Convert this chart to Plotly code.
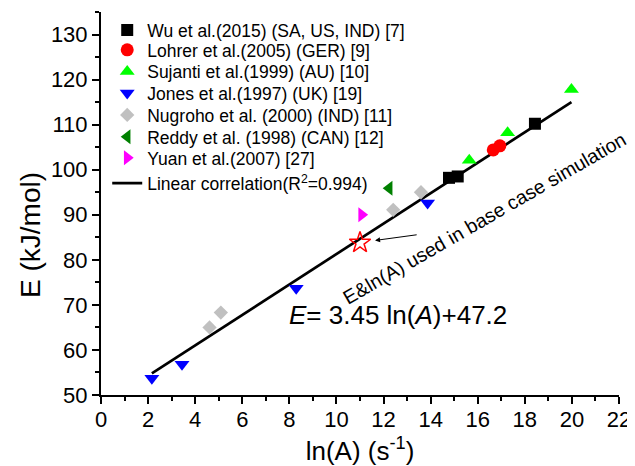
import plotly.graph_objects as go

# ---- data ----
wu_x = [14.78, 15.15, 18.43]
wu_y = [98.2, 98.5, 110.2]
lohrer_x = [16.66, 16.94]
lohrer_y = [104.4, 105.3]
sujanti_x = [15.64, 17.27, 19.98]
sujanti_y = [102.1, 108.2, 117.8]
jones_x = [2.16, 3.44, 8.29, 13.87]
jones_y = [53.7, 56.8, 73.7, 92.6]
nugroho_x = [4.61, 5.09, 12.41, 13.59]
nugroho_y = [65.0, 68.3, 91.1, 95.0]
reddy_x = [12.24]
reddy_y = [95.9]
yuan_x = [11.07]
yuan_y = [90.0]
fit_x = [2.16, 19.98]
fit_y = [54.8, 115.0]
base_x = [11.0]
base_y = [83.8]

names = [
    "Wu et al.(2015) (SA, US, IND) [7]",
    "Lohrer et al.(2005) (GER) [9]",
    "Sujanti et al.(1999) (AU) [10]",
    "Jones et al.(1997) (UK) [19]",
    "Nugroho et al. (2000) (IND) [11]",
    "Reddy et al. (1998) (CAN) [12]",
    "Yuan et al.(2007) [27]",
    "Linear correlation(R<sup>2</sup>=0.994)",
]

FONT = "Liberation Sans, Arial, sans-serif"

fig = go.Figure()

series = [
    (wu_x, wu_y, "square", "#000000", 12),
    (lohrer_x, lohrer_y, "circle", "#FF0000", 13),
    (sujanti_x, sujanti_y, "triangle-up", "#00FF00", 13),
    (jones_x, jones_y, "triangle-down", "#0000FF", 13),
    (nugroho_x, nugroho_y, "diamond", "#C0C0C0", 11),
    (reddy_x, reddy_y, "triangle-left", "#008000", 13),
    (yuan_x, yuan_y, "triangle-right", "#FF00FF", 13),
]

# fit line drawn first so markers sit on top
fig.add_trace(go.Scatter(x=fit_x, y=fit_y, mode="lines",
                         line=dict(color="black", width=2.7),
                         name=names[7], legend="legend8"))

for i, (xs, ys, sym, col, sz) in enumerate(series):
    fig.add_trace(go.Scatter(x=xs, y=ys, mode="markers", name=names[i],
                             marker=dict(symbol=sym, color=col, size=sz, line=dict(width=0)),
                             legend="legend" if i == 0 else f"legend{i+1}"))

fig.add_trace(go.Scatter(x=base_x, y=base_y, mode="markers", showlegend=False,
                         marker=dict(symbol="star-open", color="#FF0000", size=16,
                                     line=dict(width=1.5, color="#FF0000"))))

# separate one-entry legends to match the row spacing of the reference
row_y = [0.953, 0.901, 0.844, 0.788, 0.731, 0.674, 0.619, 0.553]
layout_legends = {}
for i, yy in enumerate(row_y):
    key = "legend" if i == 0 else f"legend{i+1}"
    layout_legends[key] = dict(x=0.012, y=yy, xanchor="left", yanchor="middle",
                               bgcolor="rgba(0,0,0,0)", borderwidth=0,
                               font=dict(family=FONT, size=17.5, color="black"))

fig.update_layout(**layout_legends)

fig.add_annotation(x=7.92, y=67.8, xref="x", yref="y", xanchor="left", yanchor="middle",
                   text="<i>E</i>= 3.45 ln(<i>A</i>)+47.2", showarrow=False,
                   font=dict(family=FONT, size=26, color="black"))
fig.add_annotation(x=16.3, y=89.2, xref="x", yref="y", xanchor="center", yanchor="middle",
                   text="E&ln(A) used in base case simulation", showarrow=False, textangle=-30,
                   font=dict(family=FONT, size=19.5, color="black"))
fig.add_annotation(x=11.64, y=84.3, ax=13.47, ay=85.6, xref="x", yref="y", axref="x", ayref="y",
                   text="", showarrow=True, arrowhead=2, arrowsize=1, arrowwidth=1,
                   arrowcolor="black")
# y-axis title (placed like the reference, below the axis centre)
fig.add_annotation(x=-0.135, y=0.418, xref="paper", yref="paper", xanchor="center", yanchor="middle",
                   text="E (kJ/mol)", showarrow=False, textangle=-90,
                   font=dict(family=FONT, size=28, color="black"))

axis_common = dict(showline=True, linecolor="black", linewidth=2, mirror=False,
                   showgrid=False, zeroline=False, ticks="outside", ticklen=7, tickwidth=2,
                   tickcolor="black", tickfont=dict(family=FONT, size=22, color="black"))

fig.update_xaxes(range=[0, 22], dtick=2, tick0=0, ticklabelstandoff=-3,
                 minor=dict(dtick=1, ticks="outside", ticklen=4, tickwidth=2, tickcolor="black"),
                 title=dict(text="ln(A) (s<sup>-1</sup>)", font=dict(family=FONT, size=26, color="black"),
                            standoff=12),
                 **axis_common)
fig.update_yaxes(range=[50, 135], dtick=10, tick0=50,
                 minor=dict(dtick=5, ticks="outside", ticklen=4, tickwidth=2, tickcolor="black"),
                 **axis_common)

# the page body adds an 8px margin, so the figure is sized to fit the window
fig.update_layout(width=627, height=458, margin=dict(l=93, r=16, t=4, b=71, autoexpand=False),
                  plot_bgcolor="white", paper_bgcolor="white",
                  font=dict(family=FONT, color="black"))

fig.write_html("out.html")
